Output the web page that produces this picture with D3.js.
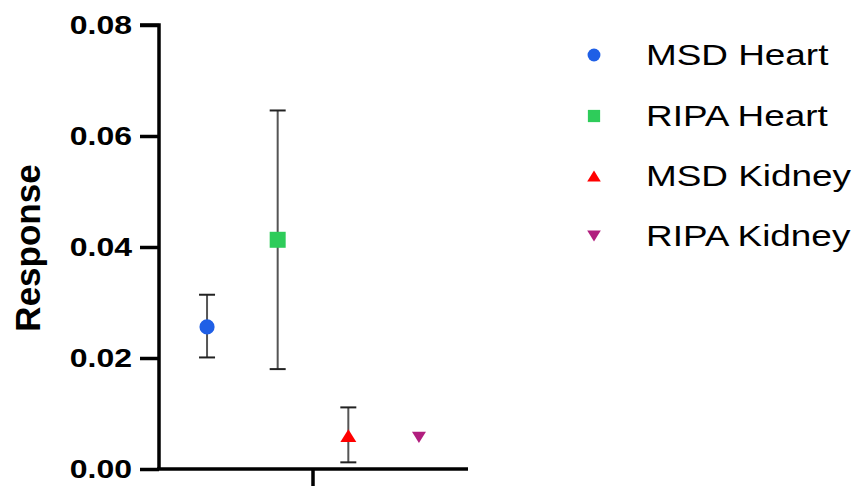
<!DOCTYPE html>
<html><head><meta charset="utf-8">
<script src="https://cdn.jsdelivr.net/npm/d3@7"></script>
<style>html,body{margin:0;padding:0;background:#fff;}svg{display:block;}</style>
</head><body>
<svg id="c" width="858" height="486"></svg>
<script>
const series = ["MSD Heart", "RIPA Heart", "MSD Kidney", "RIPA Kidney"];
const means  = [0.0256, 0.0413, 0.0060, 0.0057];
const errLow = [0.0201, 0.0180, 0.0012, 0.0057];
const errHigh= [0.0314, 0.0646, 0.0111, 0.0057];
const colors = ["#1f5fe6", "#2ecc5a", "#ff0000", "#b11e7e"];
const yTicks = [0, 0.02, 0.04, 0.06, 0.08];
const yLabel = "Response";

const svg = d3.select("#c");
const sx = 1.23;
const y = d3.scaleLinear().domain([0, 0.08]).range([469, 25]);
const x = d3.scalePoint().domain(series).range([159, 467]).padding(0.68);

// symbols centred on their bounding box
const triUp = {draw(ctx, size){ const w = Math.sqrt(size*4/Math.sqrt(3)); const h = w*Math.sqrt(3)/2*0.92;
  ctx.moveTo(0,-h/2); ctx.lineTo(w/2,h/2); ctx.lineTo(-w/2,h/2); ctx.closePath(); }};
const triDown = {draw(ctx, size){ const w = Math.sqrt(size*4/Math.sqrt(3)); const h = w*Math.sqrt(3)/2*0.92;
  ctx.moveTo(0,h/2); ctx.lineTo(w/2,-h/2); ctx.lineTo(-w/2,-h/2); ctx.closePath(); }};
const shapes = [d3.symbolCircle, d3.symbolSquare, triUp, triDown];
const plotSizes = [180, 256, 110, 85];
const legSizes = [130, 150, 80, 80];

// axes
const yAxis = d3.axisLeft(y).tickValues(yTicks).tickSize(19).tickPadding(8).tickFormat(d3.format(".2f"));
const gy = svg.append("g").attr("transform", "translate(159,0)").call(yAxis);
gy.select(".domain").attr("stroke", "#000").attr("stroke-width", 3.5).attr("d", `M-19,${y(0.08)}H0V${y(0)}`);
gy.selectAll(".tick line").attr("stroke", "#000").attr("stroke-width", 3.5);
gy.selectAll(".tick text").attr("fill", "#000").attr("font-family", "Liberation Sans, Arial, sans-serif")
  .attr("font-weight", "bold").attr("font-size", 26).attr("x", null).attr("dy", null)
  .attr("dominant-baseline", "central")
  .attr("transform", `translate(-27,0) scale(${sx},1)`);

const gx = svg.append("g");
gx.append("line").attr("x1", 157).attr("x2", 468).attr("y1", y(0)).attr("y2", y(0)).attr("stroke", "#000").attr("stroke-width", 3.5);
gx.append("line").attr("x1", (159+467)/2).attr("x2", (159+467)/2).attr("y1", y(0)).attr("y2", 486).attr("stroke", "#000").attr("stroke-width", 3.5);

svg.append("text").attr("transform", `translate(40,${(163+333)/2}) rotate(-90)`)
  .attr("text-anchor", "middle").attr("font-family", "Liberation Sans, Arial, sans-serif")
  .attr("font-weight", "bold").attr("font-size", 35).text(yLabel);

// error bars
const eb = svg.append("g");
series.forEach((s, i) => {
  if (errHigh[i] === errLow[i]) return;
  const cx = x(s);
  eb.append("line").attr("x1", cx).attr("x2", cx).attr("y1", y(errLow[i])).attr("y2", y(errHigh[i]))
    .attr("stroke", "#555").attr("stroke-width", 2);
  [errLow[i], errHigh[i]].forEach(v => eb.append("line").attr("x1", cx-8).attr("x2", cx+8)
    .attr("y1", y(v)).attr("y2", y(v)).attr("stroke", "#222").attr("stroke-width", 2));
});

// points
series.forEach((s, i) => {
  svg.append("path").attr("d", d3.symbol().type(shapes[i]).size(plotSizes[i])())
    .attr("transform", `translate(${x(s)},${y(means[i])})`).attr("fill", colors[i]);
});

// legend
const legY = [55, 116, 176, 236];
series.forEach((s, i) => {
  svg.append("path").attr("d", d3.symbol().type(shapes[i]).size(legSizes[i])())
    .attr("transform", `translate(594,${legY[i]})`).attr("fill", colors[i]);
  svg.append("text").attr("transform", `translate(646,${legY[i]+10}) scale(${sx},1)`)
    .attr("font-family", "Liberation Sans, Arial, sans-serif").attr("font-size", 30).attr("fill", "#000").text(s);
});
</script>
</body></html>
